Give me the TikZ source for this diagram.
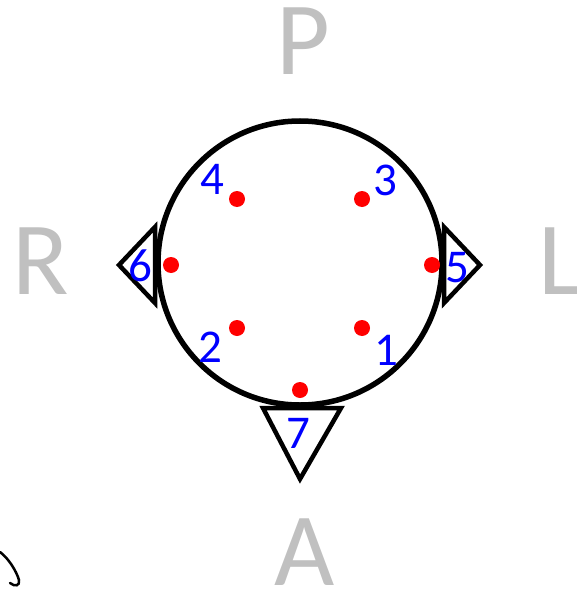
\documentclass[tikz,border=0pt]{standalone}
\usepackage{fontspec}
\setmainfont{Carlito}
\usetikzlibrary{positioning}
\definecolor{dirgray}{HTML}{C0C0C0}
\tikzset{
  elec/.style={circle,fill=red,inner sep=0pt,minimum size=16pt},
  num/.style={text=blue,font=\fontsize{47}{47}\selectfont,inner sep=0pt},
  dir/.style={text=dirgray,font=\fontsize{104}{104}\selectfont,inner sep=0pt},
  marker/.style={line width=4.5pt,line join=miter}
}
\begin{document}
\begin{tikzpicture}[x=1pt,y=-1pt]
  \useasboundingbox (0,0) rectangle (576,591);
  % orientation letters
  \node[dir] (post) at (303,41) {P};
  \node[dir] (right) at (41,261) {R};
  \node[dir] (left) at (560,261) {L};
  \node[dir] (ant) at (305,552) {A};
  % ear and nose markers
  \draw[marker] (155,227) -- (119,265) -- (155,303) -- cycle;
  \draw[marker] (444,227) -- (480,265) -- (444,303) -- cycle;
  \draw[marker] (263,408) -- (341,408) -- (300,479) -- cycle;
  % head
  \draw[line width=5.5pt] (300,263) circle (142);
  % electrodes
  \node[elec] (e1) at (362,328) {};
  \node[elec] (e2) at (237,328) {};
  \node[elec] (e3) at (362,199) {};
  \node[elec] (e4) at (237,199) {};
  \node[elec] (e5) at (432,265) {};
  \node[elec] (e6) at (171,265) {};
  \node[elec] (e7) at (300,390) {};
  \node[num] (n1) at (386,350) {1};
  \node[num] (n2) at (210,347) {2};
  \node[num] (n3) at (385,180) {3};
  \node[num] (n4) at (212,179) {4};
  \node[num] (n5) at (457,268) {5};
  \node[num] (n6) at (140,266) {6};
  \node[num] (n7) at (298,433) {7};
  % stray pen stroke
  \draw[line width=2.5pt,line cap=round] (0,552) .. controls (8,558) and (16,570) .. (19,580)
    .. controls (20,586) and (15,587) .. (10,583);
\end{tikzpicture}
\end{document}
